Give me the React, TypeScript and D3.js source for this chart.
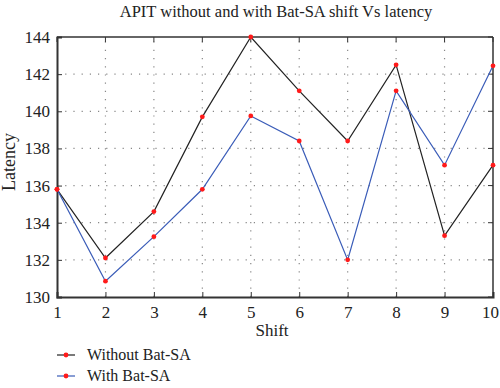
import React, { useRef, useEffect } from 'react';
import * as d3 from 'd3';

// chart data
const shifts = [1, 2, 3, 4, 5, 6, 7, 8, 9, 10];
const withoutBatSA = [135.8, 132.1, 134.6, 139.7, 144.0, 141.1, 138.4, 142.5, 133.3, 137.1];
const withBatSA = [135.8, 130.85, 133.25, 135.8, 139.75, 138.4, 132.0, 141.1, 137.1, 142.45];
const yTicks = [130, 132, 134, 136, 138, 140, 142, 144];
const seriesNames = ['Without Bat-SA', 'With Bat-SA'];
const seriesColors = ['#222222', '#3a5cb8'];

export default function App() {
  const ref = useRef<SVGSVGElement>(null);
  const width = 500;
  const height = 388;
  const margin = { top: 37, right: 7, bottom: 91, left: 57 };

  useEffect(() => {
    const svg = d3.select(ref.current);
    svg.selectAll('*').remove();
    const font = '"Liberation Serif", "Times New Roman", serif';

    const x = d3.scaleLinear()
      .domain([1, 10])
      .range([margin.left, width - margin.right]);
    const y = d3.scaleLinear()
      .domain([130, 144])
      .range([height - margin.bottom, margin.top]);

    const top = margin.top;
    const bottom = height - margin.bottom;
    const left = margin.left;
    const right = width - margin.right;

    // dotted grid
    const grid = svg.append('g')
      .attr('stroke', '#888')
      .attr('stroke-width', 1.2)
      .attr('stroke-dasharray', '1.2,7');
    grid.selectAll('.vg')
      .data(shifts.slice(1, -1))
      .enter()
      .append('line')
      .attr('x1', d => x(d)).attr('x2', d => x(d))
      .attr('y1', bottom).attr('y2', top);
    grid.selectAll('.hg')
      .data(yTicks.slice(1, -1))
      .enter()
      .append('line')
      .attr('x1', left).attr('x2', right)
      .attr('y1', d => y(d)).attr('y2', d => y(d));

    // inner ticks on right and top
    svg.append('g').selectAll('line')
      .data(yTicks)
      .enter()
      .append('line')
      .attr('x1', right).attr('x2', right - 5)
      .attr('y1', d => y(d)).attr('y2', d => y(d))
      .attr('stroke', '#333');
    svg.append('g').selectAll('line')
      .data(shifts)
      .enter()
      .append('line')
      .attr('x1', d => x(d)).attr('x2', d => x(d))
      .attr('y1', top).attr('y2', top + 5)
      .attr('stroke', '#333');

    // left and bottom axes
    const yAxis = svg.append('g')
      .attr('transform', `translate(${left},0)`)
      .call(d3.axisLeft(y).tickValues(yTicks).tickSize(-5).tickPadding(7).tickFormat(d3.format('d')));
    const xAxis = svg.append('g')
      .attr('transform', `translate(0,${bottom})`)
      .call(d3.axisBottom(x).tickValues(shifts).tickSize(-5).tickPadding(9).tickFormat(d3.format('d')));
    [yAxis, xAxis].forEach(a => {
      a.select('.domain').attr('stroke', '#333').attr('stroke-width', 2);
      a.selectAll('.tick line').attr('stroke', '#333');
      a.selectAll('.tick text')
        .attr('fill', '#222')
        .style('font-family', font)
        .style('font-size', '17px');
    });
    // keep the last x label inside the page
    xAxis.selectAll('.tick text').filter(d => d === 10).attr('dx', -3);

    // box top and right
    svg.append('line')
      .attr('x1', left).attr('x2', right).attr('y1', top).attr('y2', top)
      .attr('stroke', '#333').attr('stroke-width', 1.5);
    svg.append('line')
      .attr('x1', right).attr('x2', right).attr('y1', top).attr('y2', bottom)
      .attr('stroke', '#333').attr('stroke-width', 1.5);

    // series
    const series = [withoutBatSA, withBatSA];
    const line = d3.line<number>()
      .x((d, i) => x(shifts[i]))
      .y(d => y(d));
    series.forEach((vals, si) => {
      svg.append('path')
        .datum(vals)
        .attr('d', line)
        .attr('fill', 'none')
        .attr('stroke', seriesColors[si])
        .attr('stroke-width', 1.2);
    });
    series.forEach(vals => {
      svg.append('g').selectAll('circle')
        .data(vals)
        .enter()
        .append('circle')
        .attr('cx', (d, i) => x(shifts[i]))
        .attr('cy', d => y(d))
        .attr('r', 2.4)
        .attr('fill', '#ff1a1a');
    });

    // title and labels
    svg.append('text')
      .attr('x', 276).attr('y', 17)
      .attr('text-anchor', 'middle')
      .style('font-family', font).style('font-size', '16.5px')
      .attr('fill', '#222')
      .text('APIT without and with Bat-SA shift Vs latency');
    svg.append('text')
      .attr('transform', `translate(15,162) rotate(-90)`)
      .attr('text-anchor', 'middle')
      .style('font-family', font).style('font-size', '18px')
      .attr('fill', '#222')
      .text('Latency');
    svg.append('text')
      .attr('x', 272).attr('y', 336)
      .attr('text-anchor', 'middle')
      .style('font-family', font).style('font-size', '17px')
      .attr('fill', '#222')
      .text('Shift');

    // legend
    seriesNames.forEach((name, i) => {
      const ly = 355 + i * 21;
      svg.append('line')
        .attr('x1', 57).attr('x2', 75).attr('y1', ly).attr('y2', ly)
        .attr('stroke', seriesColors[i]).attr('stroke-width', 1.2);
      svg.append('circle')
        .attr('cx', 66).attr('cy', ly).attr('r', 2.4).attr('fill', '#ff1a1a');
      svg.append('text')
        .attr('x', 87).attr('y', ly + 5)
        .style('font-family', font).style('font-size', '16px')
        .attr('fill', '#222')
        .text(name);
    });
  }, []);

  return (
    <svg ref={ref} width={width} height={height}
      style={{ position: 'absolute', left: 0, top: 0, background: '#fff' }} />
  );
}
